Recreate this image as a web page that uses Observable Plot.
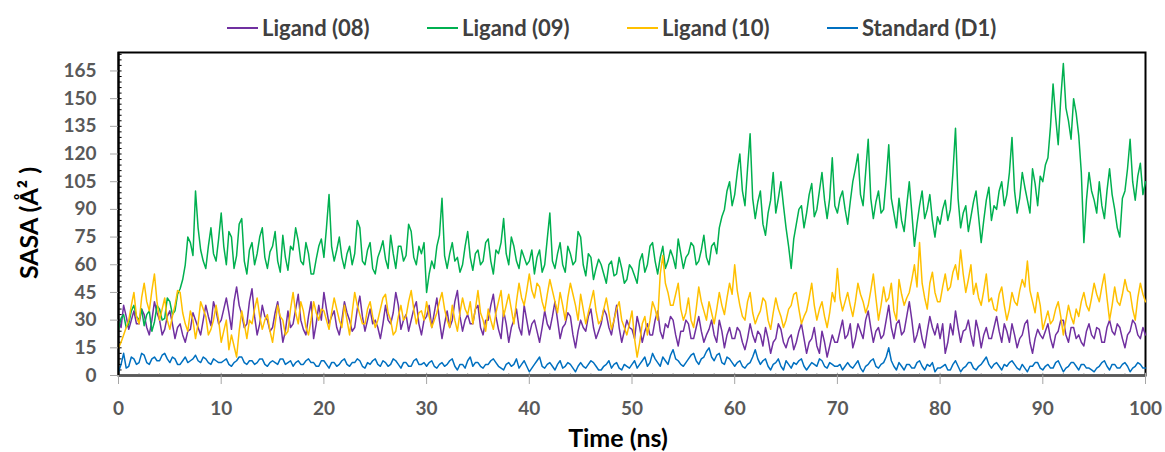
<!DOCTYPE html>
<html><head><meta charset="utf-8">
<script src="https://cdn.jsdelivr.net/npm/d3@7"></script>
<script src="https://cdn.jsdelivr.net/npm/@observablehq/plot@0.6"></script>
<style>
body{margin:0;background:#fff;font-family:Lato,"Open Sans",sans-serif;}
#legend{height:45px;position:relative;}
.item{position:absolute;top:14px;height:28px;font-weight:700;font-size:22px;line-height:28px;color:#404040;display:flex;align-items:center;white-space:nowrap;}
.sw{display:inline-block;width:31px;height:2px;margin-right:4px;}
</style></head><body>
<div id="legend"></div><div id="chart"></div>
<script>
const seriesNames = ["Ligand (08)", "Ligand (09)", "Ligand (10)", "Standard (D1)"];
const seriesColors = ["#7030A0", "#00B050", "#FFC000", "#0070C0"];
const timeRangeNs = [0, 100];
const xTicks = [0,10,20,30,40,50,60,70,80,90,100];
const yTicks = [0,15,30,45,60,75,90,105,120,135,150,165];

const ligand08 = [
30,26,38,32,25,30,35,28,28,36,33,26,22,30,40,34,30,22,25,32,35,28,20,26,28,22,18,24,25,34,30,26,22,30,38,32,27,40,35,28,
30,36,42,34,25,40,48,38,33,26,28,40,47,32,22,28,38,32,30,24,26,34,40,30,18,24,35,26,28,36,44,30,25,22,32,40,20,28,38,30,
45,36,28,32,35,26,22,30,40,34,30,24,26,36,43,32,24,30,36,28,30,26,20,28,38,30,28,34,45,38,25,30,33,24,30,36,40,28,22,30,
32,38,26,34,42,30,20,28,35,26,30,40,46,32,24,30,33,28,28,36,38,26,22,30,30,38,44,32,25,20,35,28,18,26,30,36,26,22,38,30,
22,28,30,24,18,26,35,28,25,32,40,30,20,26,28,34,32,22,15,24,30,26,24,32,36,26,20,24,28,36,33,26,22,30,38,26,18,24,30,26,
25,20,32,26,18,24,28,22,22,30,35,24,20,28,26,32,30,22,16,24,24,30,28,20,20,26,32,24,18,22,25,30,22,18,30,24,15,22,26,20,
20,26,24,18,14,20,28,22,18,24,22,16,26,20,12,18,20,28,25,18,15,20,22,14,18,24,28,20,12,18,20,26,16,12,24,18,10,16,22,18,
18,24,30,20,22,28,15,20,28,24,20,30,35,26,18,24,26,20,22,30,38,26,20,28,30,22,24,32,40,30,18,22,28,20,15,24,32,26,22,28,
20,28,12,18,28,22,35,26,18,24,25,30,22,16,30,24,15,22,26,20,20,26,32,24,18,28,24,18,28,22,15,20,22,28,30,18,12,20,25,22,
20,24,28,20,15,22,24,30,30,22,18,26,26,20,22,18,16,24,28,22,20,26,25,18,18,26,30,24,22,28,26,20,15,22,24,30,28,22,20,26,
22];
const ligand09 = [
25,31,33,26,28,35,38,32,30,36,27,33,35,24,29,38,36,30,31,42,40,33,35,44,47,52,60,75,72,65,100,80,68,62,58,70,80,66,62,74,
88,70,60,78,75,58,65,82,85,62,55,68,72,60,66,75,80,64,58,67,70,78,62,56,76,64,57,70,68,80,73,62,60,72,66,55,55,63,70,74,
64,80,98,70,62,68,75,64,58,66,70,60,66,84,80,62,60,68,72,58,55,64,68,73,63,58,76,66,58,70,70,62,65,82,78,64,60,70,66,72,
45,55,62,58,70,76,96,65,58,66,72,62,64,56,60,70,78,64,57,66,68,60,62,72,74,62,55,68,66,72,85,66,60,75,70,62,58,68,64,60,
62,68,55,64,68,56,60,74,88,62,58,66,72,60,56,70,66,60,62,78,75,60,54,66,64,52,58,63,60,55,50,60,62,54,55,64,58,50,52,60,
58,54,50,62,66,56,60,70,72,62,55,64,70,58,62,68,64,58,74,66,58,64,66,72,70,60,62,68,76,64,60,70,72,66,80,86,90,100,105,92,
98,110,120,100,92,112,131,96,85,94,100,82,76,88,95,110,88,96,105,92,80,70,58,74,82,90,92,80,88,98,104,86,90,100,110,95,85,96,118,92,
88,96,100,90,82,94,105,112,120,98,92,110,128,96,85,94,100,88,90,106,125,96,88,80,96,84,78,92,105,88,70,82,92,100,85,90,98,84,75,86,
82,90,95,84,90,110,134,96,80,88,92,78,86,94,100,86,72,84,95,102,84,92,90,100,105,92,98,110,129,100,88,96,110,102,95,88,112,104,92,108,
105,114,118,135,158,140,125,150,169,145,138,128,150,142,130,110,72,95,110,100,95,88,105,92,85,100,112,98,90,80,75,96,100,112,128,105,95,108,115,98,
105];
const ligand10 = [
15,18,22,26,30,38,45,32,28,42,50,40,35,46,55,40,30,36,42,30,25,32,38,46,45,34,28,24,35,30,20,28,40,36,32,22,25,30,38,30,
18,24,30,14,22,16,10,24,35,28,20,30,28,36,42,32,25,30,33,24,18,28,38,32,30,22,24,36,45,34,28,40,35,26,22,30,40,34,30,36,
35,30,25,34,42,36,30,26,38,30,22,34,45,38,33,28,28,36,40,32,26,30,36,42,44,34,30,22,24,32,38,30,32,40,46,36,28,34,35,30,
40,32,26,30,34,40,45,36,30,26,38,30,24,34,42,36,33,40,28,36,46,34,30,24,36,30,25,34,40,46,32,38,44,36,28,40,50,42,38,46,
55,46,42,50,48,40,35,44,52,46,40,34,45,38,30,42,50,44,38,30,44,36,28,34,40,46,35,28,30,36,42,34,25,30,36,40,30,26,22,28,
35,20,10,18,28,32,22,30,40,36,30,55,65,50,45,38,38,44,50,36,30,34,42,30,26,36,48,40,35,30,40,34,28,36,45,38,33,42,50,44,
60,46,38,32,30,40,45,34,28,32,35,42,40,30,25,34,42,36,32,26,30,36,38,44,45,36,28,32,35,42,50,38,30,36,40,32,26,34,45,40,
58,42,35,40,45,38,32,40,50,44,40,34,38,46,55,42,30,38,48,40,42,50,35,30,52,44,38,42,45,52,60,48,72,50,42,36,50,56,45,40,
40,48,55,46,48,56,60,52,68,55,45,52,60,44,50,42,38,46,55,40,42,36,35,44,48,38,30,36,45,40,38,46,52,48,62,46,40,34,45,38,
25,30,35,28,30,36,40,32,22,30,38,32,28,36,32,40,45,38,35,42,50,44,40,48,55,42,30,38,48,40,38,44,52,46,45,36,30,42,50,44,
40];
const standardD1 = [
2,6,12,4,5,10,9,6,7,12,11,7,6,9,10,8,8,11,12,9,7,10,9,6,6,8,10,7,8,9,11,8,7,10,9,7,6,9,8,7,
7,8,9,6,5,7,8,10,10,7,6,8,8,6,7,9,9,6,5,7,8,7,6,9,9,6,7,8,5,7,8,6,6,8,9,7,7,5,5,8,
8,6,4,7,7,5,6,8,9,6,5,7,7,9,8,5,4,7,6,8,9,6,5,8,7,5,6,9,8,6,4,7,7,5,5,8,9,6,6,7,
5,7,8,5,4,6,7,5,6,8,9,5,3,6,6,4,8,10,5,7,7,5,4,6,6,8,9,7,5,4,3,6,7,5,6,9,4,6,8,5,
2,4,6,8,10,5,4,6,7,5,3,6,8,4,5,7,6,4,2,5,7,5,4,6,8,7,5,3,3,5,6,8,4,6,7,4,3,6,5,4,
6,8,4,6,8,10,5,7,12,9,7,5,10,8,6,11,14,9,8,6,5,7,9,11,12,8,6,9,10,13,15,10,8,11,12,7,6,10,9,7,
5,7,8,5,4,6,7,10,14,9,6,8,9,5,3,6,7,9,5,3,8,6,4,7,6,8,9,5,3,5,7,6,5,9,8,5,4,7,6,5,
5,6,3,5,7,5,4,6,8,4,2,5,6,8,9,5,4,6,7,10,15,8,5,3,7,5,3,6,6,4,4,7,8,5,3,6,5,7,2,4,
4,5,6,3,3,6,8,5,2,4,5,7,7,4,3,5,6,8,10,6,4,6,7,5,3,6,5,7,8,6,4,3,6,4,2,5,5,7,7,4,
3,5,6,4,4,7,8,5,2,4,5,7,7,5,3,6,6,4,4,3,2,4,5,7,8,5,3,6,6,4,4,6,7,5,2,4,5,7,6,4,
4];

const seriesValues = [ligand08, ligand09, ligand10, standardD1];
const data = [];
seriesNames.forEach((name, k) => {
  const vals = seriesValues[k];
  const step = (timeRangeNs[1] - timeRangeNs[0]) / (vals.length - 1);
  vals.forEach((v, i) => data.push({t: timeRangeNs[0] + i * step, v, s: name}));
});

const minorX = d3.range(0, 101, 2).filter(d => d % 10 !== 0);
const minorY = d3.range(0, 175, 3);

// legend
const legend = document.getElementById("legend");
seriesNames.forEach((n, k) => {
  const it = document.createElement("div"); it.className = "item"; it.style.left = (227 + 200 * k) + "px";
  const sw = document.createElement("span"); sw.className = "sw"; sw.style.background = seriesColors[k];
  it.appendChild(sw); it.appendChild(document.createTextNode(n)); legend.appendChild(it);
});

const font = "Lato, 'Open Sans', sans-serif";
const chart = Plot.plot({
  width: 1165, height: 407,
  marginLeft: 118, marginRight: 20, marginTop: 7, marginBottom: 77,
  style: {fontFamily: font, background: "#fff"},
  x: {domain: [0, 100]},
  y: {domain: [0, 175]},
  color: {domain: seriesNames, range: seriesColors},
  marks: [
    Plot.frame({stroke: "#000", strokeWidth: 2}),
    Plot.ruleX(minorX, {y1: 0, y2: 1, stroke: "#a6a6a6"}),
    Plot.ruleX(xTicks, {y1: 0, y2: 1.2, stroke: "#a6a6a6"}),
    Plot.ruleY(minorY, {x1: 0, x2: 0.35, stroke: "#000"}),
    Plot.line(data, {x: "t", y: "v", z: "s", stroke: "s", strokeWidth: 1.5}),
    Plot.ruleY([0], {stroke: "#595959", strokeWidth: 2.5}),
    Plot.ruleX([0], {stroke: "#000", strokeWidth: 2}),
    Plot.axisX({ticks: xTicks, tickSize: 9, tickPadding: 17, fontSize: 19, fontWeight: "bold", fill: "#595959", stroke: "#a6a6a6", label: null}),
    Plot.axisY({ticks: yTicks, tickSize: 8, tickPadding: 14, fontSize: 19, fontWeight: "bold", fill: "#595959", stroke: "#a6a6a6", label: null}),
    Plot.text(["Time (ns)"], {frameAnchor: "bottom", textAnchor: "middle", lineAnchor: "middle", dx: -14, dy: 63, fontSize: 25, fontWeight: "bold", fill: "#000"}),
    Plot.text(["SASA (Å² )"], {frameAnchor: "left", textAnchor: "middle", lineAnchor: "middle", rotate: -90, dx: -89, dy: 9, fontSize: 25, fontWeight: "bold", fill: "#000"})
  ]
});
document.getElementById("chart").appendChild(chart);
</script>
</body></html>
